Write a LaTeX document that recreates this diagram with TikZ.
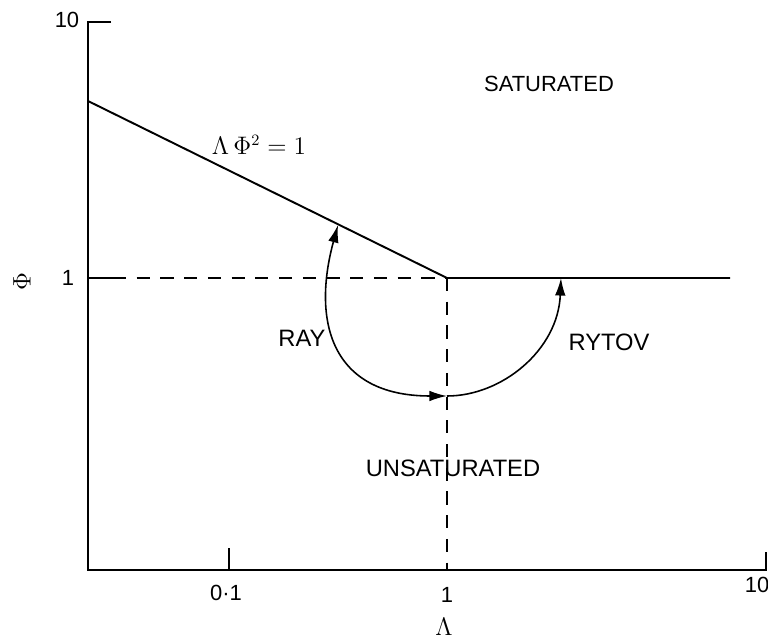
\documentclass[tikz,border=0pt]{standalone}
\usepackage{amsmath}
\usepackage{fontspec}
\setmainfont{Liberation Sans}
\usepackage{tikz}
\usetikzlibrary{arrows.meta,calc}

\tikzset{
  axis/.style={line width=1.1pt},
  guide/.style={line width=1pt, dash pattern=on 7.5pt off 6pt},
  arc/.style={line width=0.9pt},
  tip/.style={-{Latex[length=10pt,width=6pt]}},
  bothtips/.style={{Latex[length=10pt,width=6pt]}-{Latex[length=10pt,width=6pt]}},
  lbl/.style={font=\fontsize{12.5}{14}\selectfont, inner sep=1pt},
  biglbl/.style={font=\fontsize{13.5}{16}\selectfont, inner sep=1pt}
}

\begin{document}
\begin{tikzpicture}[x=0.02cm, y=-0.02cm]
        \useasboundingbox (0,0) rectangle (768,638);

        % Points of the frame
        \coordinate (O) at (88,570);
        \coordinate (ytop) at (88,22);
        \coordinate (ytoptick) at (111,22);
        \coordinate (yone) at (88,278);
        \coordinate (yonetick) at (113,278);
        \coordinate (xend) at (766,570);
        \coordinate (xendtick) at (766,552);
        \coordinate (xtenth) at (229,570);
        \coordinate (xtenthtick) at (229,548);
        \coordinate (xone) at (447,570);

        % Points of the boundaries
        \coordinate (start) at (88,101);
        \coordinate (knee) at (447,278);
        \coordinate (flatend) at (730,278);
        \coordinate (raytip) at (338,225);
        \coordinate (bottom) at (447,396);
        \coordinate (rytovtip) at (561,278);

        % Draw axes
        \draw[axis] (ytoptick) -- (ytop) -- (O) -- (xend) -- (xendtick);
        \draw[axis] (yone) -- (yonetick);
        \draw[axis] (xtenth) -- (xtenthtick);

        % Draw dashed guides at Lambda = 1 and Phi = 1
        \draw[guide] (yonetick) -- (knee);
        \draw[guide] (knee) -- (xone);

        % Draw boundary Lambda Phi^2 = 1 and Phi = 1
        \draw[axis] (start) -- (knee) -- (flatend);

        % Draw transitions
        \draw[arc, bothtips] (bottom) .. controls (330,396) and (312,320) .. (raytip);
        \draw[arc, tip] (bottom) .. controls (502,396) and (558,350) .. (rytovtip);

        % Axis labels
        \node[lbl] (ylab10) at (67,20) {10};
        \node[lbl] (ylab1) at (68,278) {1};
        \node[biglbl, rotate=90] (ylab) at (22,282) {$\Phi$};
        \node[lbl] (xlab01) at (226,593) {0\textperiodcentered 1};
        \node[lbl] (xlab1) at (447,595) {1};
        \node[lbl] (xlab10) at (757,585) {10};
        \node[biglbl] (xlab) at (444,627) {$\Lambda$};

        % Region labels
        \node[biglbl] (boundlab) at (259,145) {$\Lambda\,\Phi^{2} = 1$};
        \node[lbl] (satlab) at (549,84) {SATURATED};
        \node[biglbl] (raylab) at (302,338) {RAY};
        \node[biglbl] (rytovlab) at (609,342) {RYTOV};
        \node[biglbl] (unsatlab) at (453,468) {UNSATURATED};
\end{tikzpicture}
\end{document}
